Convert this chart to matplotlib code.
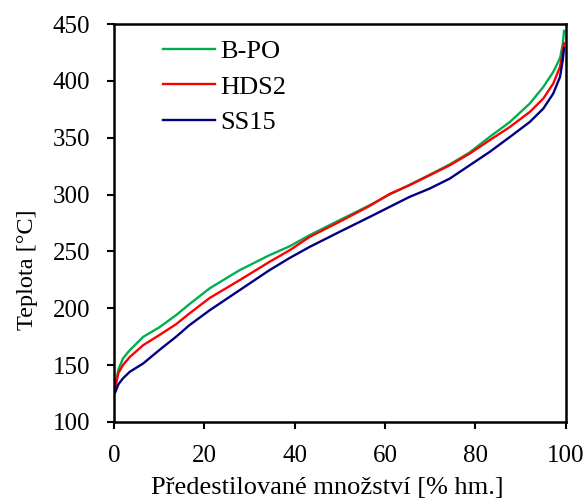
import matplotlib
matplotlib.use("Agg")
import matplotlib.pyplot as plt

x = [0.3, 1, 2, 3.5, 6.5, 10, 13.8, 16.7, 21.2, 27.8, 34.4, 38.9, 43.3, 49.9, 56.6, 61, 65.4, 69.9, 74.3, 78.7, 83.1, 87.6, 92, 95, 97.2, 98.7, 99.3, 99.6]
b_po = [132, 146, 155.7, 163, 174.8, 183, 194, 203.5, 217.5, 233.4, 246.6, 254.5, 264.2, 277.4, 290.6, 300, 308.5, 317.5, 326.5, 337, 350.6, 363.8, 380, 394.6, 407.8, 420, 432, 444]
hds2 = [130, 143, 149.9, 157, 167.5, 176.2, 186, 195.3, 209, 224.6, 240.7, 251, 262.7, 276, 290, 300.5, 308.2, 317, 325.7, 336, 347.7, 359.4, 372.6, 384.4, 397.6, 412.2, 425, 433]
ss15 = [126, 133, 138.2, 144, 151.4, 163, 175, 185, 198.2, 215.8, 233.4, 244.2, 253.9, 267.1, 280.3, 289.1, 297.9, 305.3, 314, 325.7, 337.4, 350.6, 363.8, 375.6, 388.8, 403.4, 418, 429]

labels = ["B-PO", "HDS2", "SS15"]
colors = ["#00B050", "#FF0000", "#000080"]

plt.rcParams['font.family'] = ['Liberation Serif', 'DejaVu Serif']
fig = plt.figure(figsize=(5.87, 5.01), dpi=100)
ax = fig.add_axes([0.194, 0.158, 0.770, 0.794])

for ys, lab, c in zip([b_po, hds2, ss15], labels, colors):
    ax.plot(x, ys, color=c, lw=1.7, label=lab)

ax.set_xlim(0, 100)
ax.set_ylim(100, 450)
ax.set_xticks(range(0, 101, 20))
ax.set_yticks(range(100, 451, 50))
ax.tick_params(direction='out', length=5, width=1.5, labelsize=18, color='black', pad=12)
for s in ax.spines.values():
    s.set_linewidth(1.8)
ax.set_xlabel("Předestilované množství [% hm.]", fontsize=19)
ax.set_ylabel("Teplota [°C]", fontsize=17.5)
ax.xaxis.set_label_coords(0.472, -0.138)
ax.yaxis.set_label_coords(-0.168, 0.382)
ax.legend(loc='upper left', bbox_to_anchor=(162.7 / 587, 1 - 39.7 / 501),
          bbox_transform=fig.transFigure, frameon=False, fontsize=19,
          handlelength=1.98, labelspacing=0.45, handletextpad=0.2,
          borderpad=0, borderaxespad=0)

fig.savefig("out.png", dpi=100)
